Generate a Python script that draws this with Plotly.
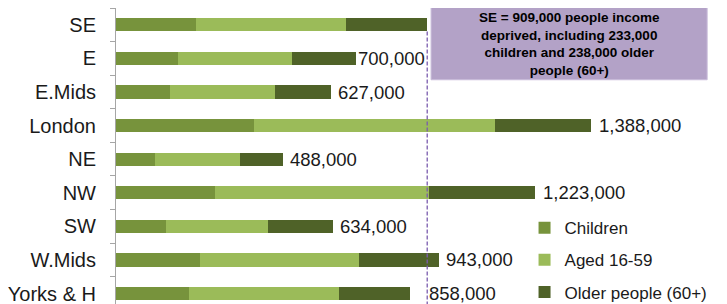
import plotly.graph_objects as go

regions = ["SE", "E", "E.Mids", "London", "NE", "NW", "SW", "W.Mids", "Yorks & H"]
children = [233000, 180000, 157000, 403000, 113000, 290000, 145000, 244000, 212000]
aged = [438000, 333000, 308000, 704000, 249000, 625000, 300000, 465000, 439000]
older = [238000, 187000, 162000, 281000, 126000, 308000, 189000, 234000, 207000]
totals = [909000, 700000, 627000, 1388000, 488000, 1223000, 634000, 943000, 858000]
total_labels = ["", "700,000", "627,000", "1,388,000", "488,000", "1,223,000", "634,000", "943,000", "858,000"]
label_shift = [5, 0, 5, 6, 5, 6, 5, 5, 17]
se_total = 909000
box_text = "<b>SE = 909,000 people income<br>deprived, including 233,000<br>children and 238,000 older<br>people (60+)</b>"

series = [("Children", children, "#77933C"),
          ("Aged 16-59", aged, "#9BBB59"),
          ("Older people (60+)", older, "#4F6228")]

FONT = "Liberation Sans, Arial"

fig = go.Figure()
for name, vals, col in series:
    fig.add_trace(go.Bar(
        y=regions, x=vals, name=name, orientation="h",
        marker=dict(color=col, line=dict(width=0)),
        legendgroup=name,
    ))

for r, t, lab, sh in zip(regions, totals, total_labels, label_shift):
    if lab:
        fig.add_annotation(x=t, y=r, text=lab, showarrow=False, xanchor="left",
                           xshift=sh, font=dict(size=18.5, color="#1a1a1a", family=FONT))

fig.add_shape(type="line", xref="x", yref="y", x0=se_total, x1=se_total,
              y0=0.2, y1=9.5, line=dict(color="#7A5CAE", width=1.3, dash="4px,2px"))

fig.add_shape(type="rect", xref="paper", yref="paper",
              x0=0.509, x1=0.955, y0=0.77, y1=1.02,
              fillcolor="#B3A2C7", line=dict(color="#C9BCDA", width=1))
fig.add_annotation(xref="paper", yref="paper", x=0.732, y=0.885, text=box_text,
                   showarrow=False, xanchor="center", yanchor="middle", align="center",
                   font=dict(size=13.5, color="#000000", family=FONT))

fig.update_layout(
    barmode="stack", bargap=0.61,
    width=727, height=312,
    margin=dict(l=108, r=0, t=0, b=0, autoexpand=False),
    paper_bgcolor="white", plot_bgcolor="white",
    font=dict(family=FONT, color="#1a1a1a"),
    legend=dict(x=0.66, y=0.352, xanchor="left", yanchor="top",
                font=dict(size=17, color="#1a1a1a"),
                tracegroupgap=7, traceorder="grouped",
                bgcolor="rgba(0,0,0,0)"),
    xaxis=dict(range=[0, 1808000], visible=False, fixedrange=True),
    yaxis=dict(range=[8.786, -0.5], type="category", showline=True, automargin=False,
               linecolor="#A6A6A6", linewidth=1, ticks="outside", ticklen=5,
               tickcolor="#A6A6A6", tickson="boundaries", ticklabelstandoff=15,
               showgrid=False, tickfont=dict(size=20, color="#1a1a1a")),
)

fig.write_html("out.html")
